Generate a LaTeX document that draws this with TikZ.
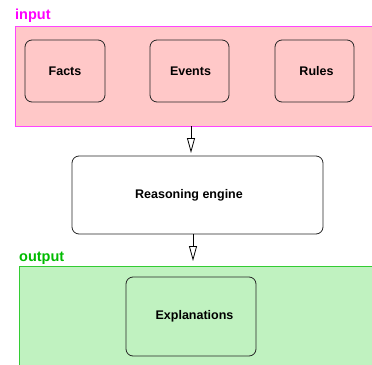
\documentclass[tikz,border=0pt]{standalone}
\usepackage{fontspec}
\setmainfont{Liberation Sans}
\usetikzlibrary{arrows.meta}
\definecolor{infill}{HTML}{FFC8C8}
\definecolor{inborder}{HTML}{FF44FF}
\definecolor{inlabel}{HTML}{FF00FF}
\definecolor{outfill}{HTML}{C0F2C0}
\definecolor{outborder}{HTML}{33CC33}
\definecolor{outlabel}{HTML}{00BB00}
\tikzset{
  box/.style={draw=black!85, line width=0.8pt, rounded corners=7pt, font=\bfseries\fontsize{12.5}{14}\selectfont, inner sep=0pt},
  grp/.style={line width=1pt},
  flow/.style={draw=black, line width=0.9pt, -{Triangle[open, length=15pt, width=8pt, line width=0.8pt]}},
  glabel/.style={font=\bfseries\fontsize{14.5}{16}\selectfont, anchor=base west, inner sep=0pt}
}
\begin{document}
\begin{tikzpicture}[x=1pt, y=-1pt]
\useasboundingbox (0,0) rectangle (372,364);
% input group
\draw[grp, fill=infill, draw=inborder] (15,26) rectangle (380,126);
\node[glabel, text=inlabel] (inlbl) at (15,19.5) {input};
\node[box, minimum width=80pt, minimum height=62pt] (facts) at (65,71) {Facts};
\node[box, minimum width=79pt, minimum height=62pt] (events) at (189.5,71) {\hspace*{2pt}Events};
\node[box, minimum width=79pt, minimum height=62pt] (rules) at (314.5,71) {\hspace*{4pt}\raisebox{-2pt}{Rules}};
% reasoning
\node[box, fill=white, minimum width=251pt, minimum height=78pt] (reason) at (197.5,195) {\hspace*{-17pt}Reasoning engine};
% output group
\draw[grp, fill=outfill, draw=outborder] (19,266) rectangle (380,372);
\node[glabel, text=outlabel] (outlbl) at (19,261) {output};
\node[box, minimum width=130pt, minimum height=79pt] (expl) at (191,316.5) {\hspace*{7pt}Explanations};
% arrows
\coordinate (a1s) at (191,126);
\coordinate (a1e) at (191,153);
\draw[flow] (a1s) -- (a1e);
\coordinate (a2s) at (193,234);
\coordinate (a2e) at (193,261);
\draw[flow] (a2s) -- (a2e);
\end{tikzpicture}
\end{document}
